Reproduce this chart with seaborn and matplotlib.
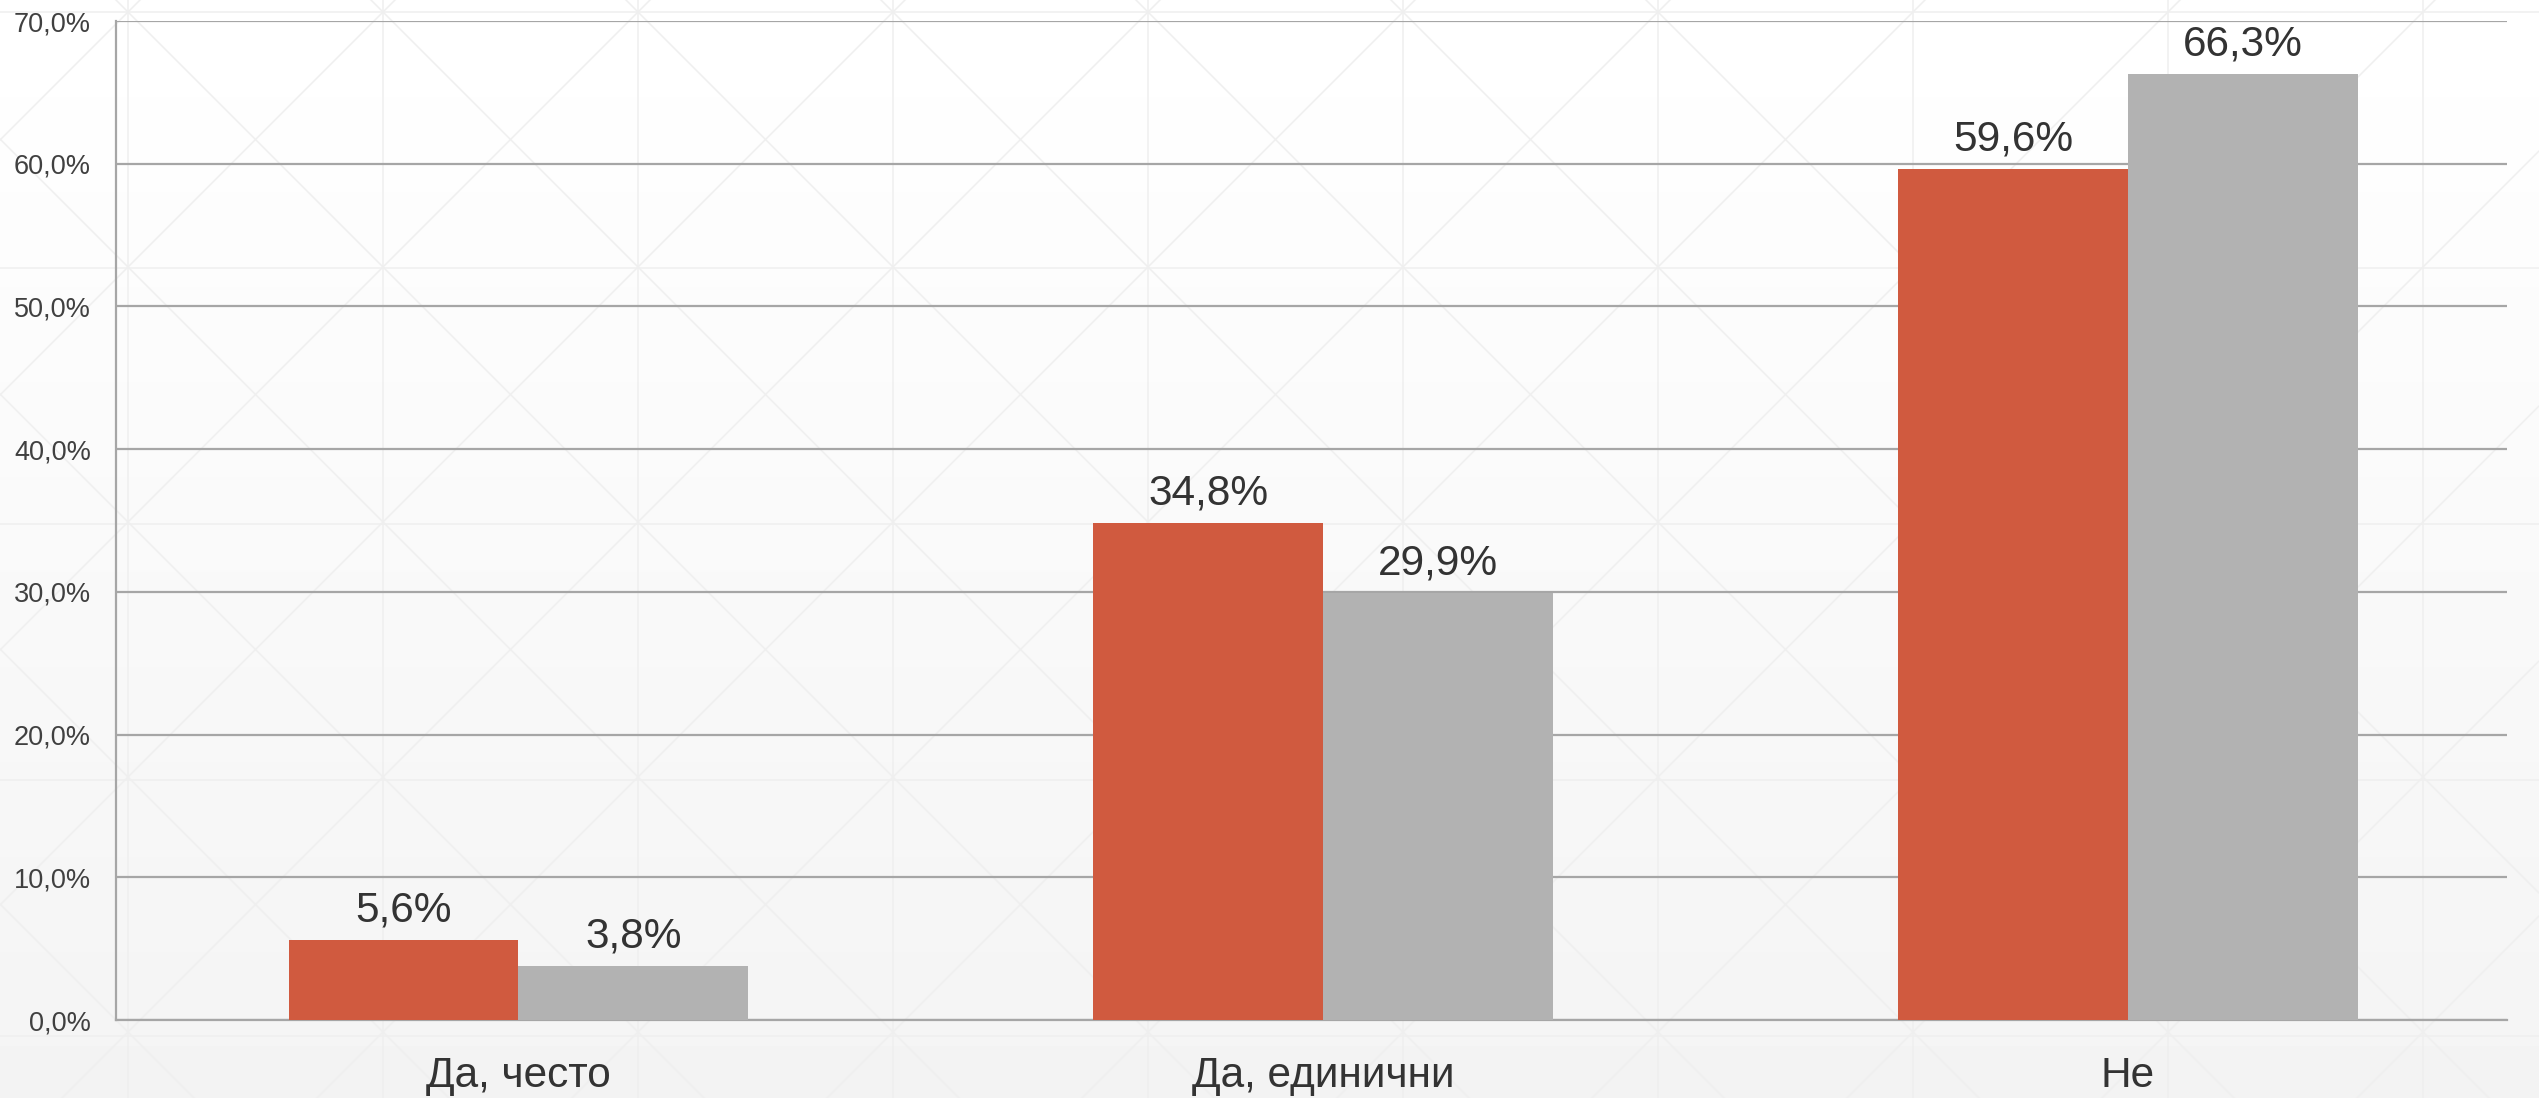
import numpy as np
import pandas as pd
import matplotlib
matplotlib.use("Agg")
import matplotlib.pyplot as plt
import seaborn as sns

# ---------------------------------------------------------------------------
# DATA
# ---------------------------------------------------------------------------
categories = ["Да, често", "Да, единични", "Не"]
series_names = ["Серия 1", "Серия 2"]
series_1 = [5.6, 34.8, 59.6]
series_2 = [3.8, 29.9, 66.3]
y_ticks = [0, 10, 20, 30, 40, 50, 60, 70]
colors = ["#D05A3F", "#B2B2B2"]

df = pd.DataFrame({
    "category": categories * 2,
    "series": [series_names[0]] * 3 + [series_names[1]] * 3,
    "value": series_1 + series_2,
})

# ---------------------------------------------------------------------------
# PLOT
# ---------------------------------------------------------------------------
sns.set_theme(style="white")
plt.rcParams["font.family"] = ["Liberation Sans", "DejaVu Sans"]
text_color = "#333333"

W, H = 2539, 1098
fig = plt.figure(figsize=(W / 100, H / 100), dpi=100)

# background: soft vertical gradient with a faint diamond pattern
bg = fig.add_axes([0, 0, 1, 1], zorder=-10)
grad = np.linspace(1.0, 0.955, 256).reshape(-1, 1)
bg.imshow(grad, cmap="gray", vmin=0, vmax=1, aspect="auto",
          extent=(0, W, H, 0), interpolation="bilinear")
step = 255
pat = dict(color="#efefef", lw=1.1, zorder=1)
for k in range(-6, 14):
    c1 = -116 + step * k
    c2 = 140 + step * k
    bg.plot([0, W], [c1, W + c1], **pat)
    bg.plot([0, W], [c2, c2 - W], **pat)
for k in range(0, 12):
    bg.axvline(128 + step * k, **pat)
for k in range(0, 6):
    bg.axhline(12 + 256 * k, **pat)
bg.set_xlim(0, W)
bg.set_ylim(H, 0)
bg.axis("off")

ax = fig.add_axes([116 / W, 1 - 1020 / H, (2507 - 116) / W, (1020 - 21) / H])
ax.patch.set_alpha(0)

sns.barplot(data=df, x="category", y="value", hue="series",
            palette=colors, width=0.571, gap=0, saturation=1,
            linewidth=0, legend=False, ax=ax, zorder=3)

for cont in ax.containers:
    ax.bar_label(cont, labels=[f"{v:.1f}%".replace(".", ",") for v in cont.datavalues],
                 padding=7, fontsize=30.5, color=text_color)

ax.set_xlim(-0.5, 2.471)
ax.set_ylim(0, 70)
ax.set_yticks(y_ticks)
ax.set_yticklabels([f"{t:.1f}%".replace(".", ",") for t in y_ticks],
                   fontsize=19.5, color="#404040")
ax.tick_params(axis="y", length=0, pad=18)
ax.tick_params(axis="x", length=0, pad=26, labelsize=30.5, labelcolor=text_color)
ax.yaxis.grid(True, color="#a6a6a6", lw=1.6, zorder=0)
ax.set_axisbelow(True)
ax.set_xlabel("")
ax.set_ylabel("")

for side in ["top", "right"]:
    ax.spines[side].set_visible(False)
for side in ["left", "bottom"]:
    ax.spines[side].set_color("#a6a6a6")
    ax.spines[side].set_linewidth(1.6)

fig.savefig("out.png", dpi=100)
